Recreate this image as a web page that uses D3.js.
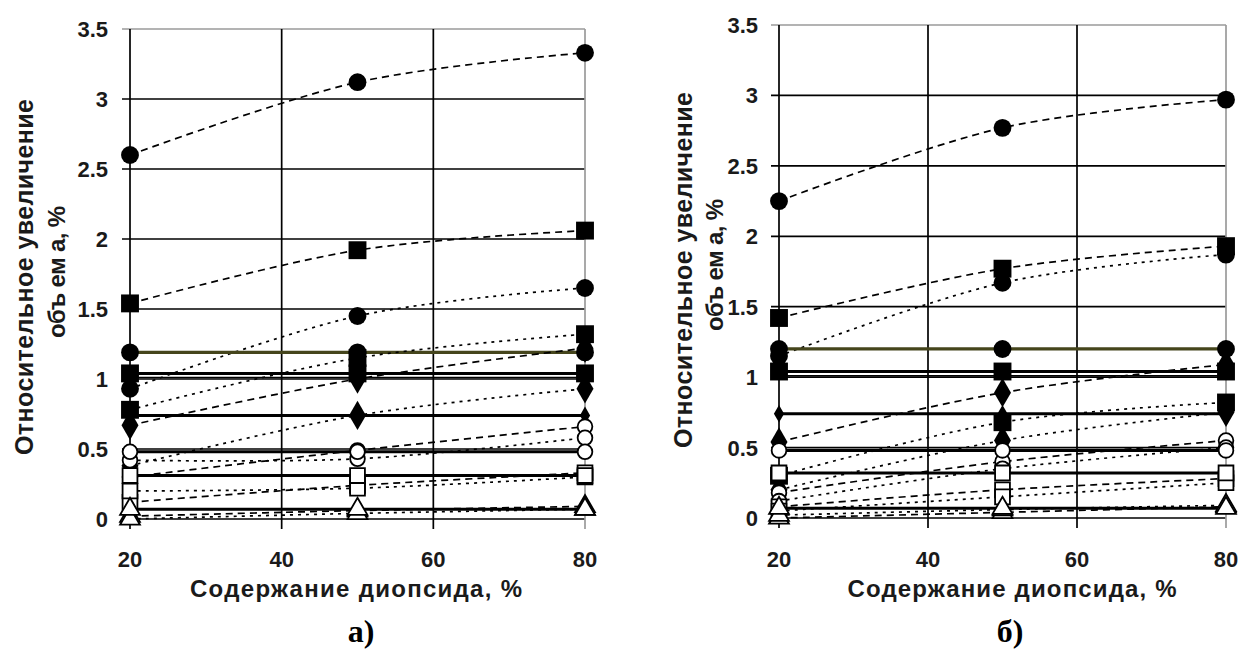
<!DOCTYPE html>
<html><head><meta charset="utf-8">
<script src="https://cdn.jsdelivr.net/npm/d3@7"></script>
<style>body{margin:0;background:#fff}svg{display:block}</style>
</head><body>
<svg id="c" width="1240" height="650"></svg>
<script>
// ---------- data ----------
const xValues = [20, 50, 80];
const xTicks = [20, 40, 60, 80];
const xTickLabels = ["20", "40", "60", "80"];
const yTicks = [0, 0.5, 1, 1.5, 2, 2.5, 3, 3.5];
const yTickLabels = ["0", "0.5", "1", "1.5", "2", "2.5", "3", "3.5"];
const xTitle = "Содержание диопсида, %";
const yTitle1 = "Относительное увеличение";
const yTitle2 = "объ ем а, %";
const panelLabels = ["а)", "б)"];

// series definitions: marker type and line style
const seriesMarkers = ["circle","circle","circle","square","square","square","squareSmall",
  "diamond","diamond","diamondSmall","ocircle","ocircle","ocircle",
  "osquare","osquare","osquare","triangle","triangle","triangle"];
const seriesStyles = ["dash","dot","olive","dash","dot","solid","thin",
  "dash","dot","solid","dash","dot","solid",
  "dash","dot","solid","dash","dot","solid"];

// panel а)
const aCircleDash   = [2.60, 3.12, 3.33];
const aCircleDot    = [0.93, 1.45, 1.65];
const aCircleSolid  = [1.19, 1.19, 1.19];
const aSquareDash   = [1.54, 1.92, 2.06];
const aSquareDot    = [0.78, 1.15, 1.32];
const aSquareSolid  = [1.04, 1.04, 1.04];
const aSquareThin   = [1.01, 1.01, 1.01];
const aDiamondDash  = [0.67, 1.00, 1.22];
const aDiamondDot   = [0.38, 0.74, 0.93];
const aDiamondSolid = [0.74, 0.74, 0.74];
const aOCircleDash  = [0.30, 0.49, 0.66];
const aOCircleDot   = [0.42, 0.43, 0.58];
const aOCircleSolid = [0.48, 0.48, 0.48];
const aOSquareDash  = [0.12, 0.24, 0.33];
const aOSquareDot   = [0.20, 0.22, 0.30];
const aOSquareSolid = [0.31, 0.31, 0.31];
const aTriDash      = [0.02, 0.06, 0.09];
const aTriDot       = [0.00, 0.04, 0.07];
const aTriSolid     = [0.07, 0.07, 0.07];

// panel б)
const bCircleDash   = [2.25, 2.77, 2.97];
const bCircleDot    = [1.15, 1.67, 1.87];
const bCircleSolid  = [1.20, 1.20, 1.20];
const bSquareDash   = [1.42, 1.77, 1.93];
const bSquareDot    = [0.30, 0.68, 0.82];
const bSquareSolid  = [1.04, 1.04, 1.04];
const bSquareThin   = [1.01, 1.01, 1.01];
const bDiamondDash  = [0.54, 0.89, 1.09];
const bDiamondDot   = [0.20, 0.55, 0.75];
const bDiamondSolid = [0.74, 0.74, 0.74];
const bOCircleDash  = [0.18, 0.40, 0.55];
const bOCircleDot   = [0.12, 0.35, 0.50];
const bOCircleSolid = [0.48, 0.48, 0.48];
const bOSquareDash  = [0.08, 0.20, 0.28];
const bOSquareDot   = [0.05, 0.15, 0.25];
const bOSquareSolid = [0.32, 0.32, 0.32];
const bTriDash      = [0.00, 0.04, 0.08];
const bTriDot       = [0.02, 0.06, 0.09];
const bTriSolid     = [0.07, 0.07, 0.07];

const valuesA = [aCircleDash,aCircleDot,aCircleSolid,aSquareDash,aSquareDot,aSquareSolid,aSquareThin,
  aDiamondDash,aDiamondDot,aDiamondSolid,aOCircleDash,aOCircleDot,aOCircleSolid,
  aOSquareDash,aOSquareDot,aOSquareSolid,aTriDash,aTriDot,aTriSolid];
const valuesB = [bCircleDash,bCircleDot,bCircleSolid,bSquareDash,bSquareDot,bSquareSolid,bSquareThin,
  bDiamondDash,bDiamondDot,bDiamondSolid,bOCircleDash,bOCircleDot,bOCircleSolid,
  bOSquareDash,bOSquareDot,bOSquareSolid,bTriDash,bTriDot,bTriSolid];

// ---------- drawing ----------
const svg = d3.select("#c");
const FONT = "'Liberation Sans', Arial, sans-serif";

const panels = [
  {vals: valuesA, x0: 130, x1: 585, yb: 519, yt: 29, ylabR: 108, t1x: 33, t2x: 65, tcy: 277, t2cy: 272, xtc: 356, xtw: 332, lab: panelLabels[0], labx: 361},
  {vals: valuesB, x0: 779, x1: 1226, yb: 518, yt: 25, ylabR: 758, t1x: 692, t2x: 723, tcy: 270, t2cy: 265, xtc: 1012, xtw: 329, lab: panelLabels[1], labx: 1010}
];

const styleMap = {
  dash:  {stroke:"#000", w:1.7, dash:"7,5"},
  dot:   {stroke:"#000", w:1.7, dash:"3,5"},
  solid: {stroke:"#000", w:3, dash:null},
  thin:  {stroke:"#000", w:1.5, dash:null},
  olive: {stroke:"#45451c", w:3.2, dash:null}
};

panels.forEach(p => {
  const x = d3.scaleLinear().domain([20, 80]).range([p.x0, p.x1]);
  const y = d3.scaleLinear().domain([0, 3.5]).range([p.yb, p.yt]);
  const g = svg.append("g");

  // horizontal grid
  g.selectAll("line.hg").data(yTicks).enter().append("line")
    .attr("x1", x(20) - 8).attr("x2", x(80))
    .attr("y1", d => y(d)).attr("y2", d => y(d))
    .attr("stroke", d => d === 3.5 ? "#9a9a9a" : "#000")
    .attr("stroke-width", 1.7);
  // vertical grid + ticks below axis
  g.selectAll("line.vg").data(xTicks).enter().append("line")
    .attr("x1", d => x(d)).attr("x2", d => x(d))
    .attr("y1", y(3.5)).attr("y2", y(0) + 10)
    .attr("stroke", d => d === 80 ? "#9a9a9a" : "#000")
    .attr("stroke-width", 1.7);

  // tick labels
  g.selectAll("text.yl").data(yTicks).enter().append("text")
    .attr("x", p.ylabR).attr("y", d => y(d) + 8)
    .attr("text-anchor", "end")
    .attr("font-family", FONT).attr("font-weight", "bold").attr("font-size", 22)
    .attr("fill", "#1a1a1a")
    .text((d, i) => yTickLabels[i]);
  g.selectAll("text.xl").data(xTicks).enter().append("text")
    .attr("x", d => x(d)).attr("y", 567)
    .attr("text-anchor", "middle")
    .attr("font-family", FONT).attr("font-weight", "bold").attr("font-size", 22)
    .attr("fill", "#1a1a1a")
    .text((d, i) => xTickLabels[i]);

  // axis titles
  g.append("text").attr("x", p.xtc).attr("y", 597).attr("text-anchor", "middle")
    .attr("font-family", FONT).attr("font-weight", "bold").attr("font-size", 24)
    .attr("textLength", p.xtw).attr("lengthAdjust", "spacing")
    .attr("fill", "#1a1a1a").text(xTitle);
  g.append("text").attr("transform", `translate(${p.t1x},${p.tcy}) rotate(-90)`)
    .attr("text-anchor", "middle")
    .attr("font-family", FONT).attr("font-weight", "bold").attr("font-size", 25)
    .attr("textLength", 356).attr("lengthAdjust", "spacing")
    .attr("fill", "#1a1a1a").text(yTitle1);
  g.append("text").attr("transform", `translate(${p.t2x},${p.t2cy}) rotate(-90)`)
    .attr("text-anchor", "middle")
    .attr("font-family", FONT).attr("font-weight", "bold").attr("font-size", 24)
    .attr("textLength", 132).attr("lengthAdjust", "spacing")
    .attr("fill", "#1a1a1a").text(yTitle2);

  // panel label
  g.append("text").attr("x", p.labx).attr("y", 642).attr("text-anchor", "middle")
    .attr("font-family", "'Liberation Serif', 'Times New Roman', serif")
    .attr("font-weight", "bold").attr("font-size", 32).attr("fill", "#000")
    .text(p.lab);

  // lines
  const line = d3.line().x((d, i) => x(xValues[i])).y(d => y(d)).curve(d3.curveCardinal.tension(0));
  p.vals.forEach((vals, si) => {
    const st = styleMap[seriesStyles[si]];
    g.append("path").attr("d", line(vals)).attr("fill", "none")
      .attr("stroke", st.stroke).attr("stroke-width", st.w)
      .attr("stroke-dasharray", st.dash);
  });

  // markers
  const sym = {
    circle: [d3.symbolCircle, 250, "#000", "none"],
    square: [d3.symbolSquare, 320, "#000", "none"],
    squareSmall: [d3.symbolSquare, 150, "#000", "none"],
    diamond: [d3.symbolDiamond, 250, "#000", "none"],
    diamondSmall: [d3.symbolDiamond, 90, "#000", "none"],
    ocircle: [d3.symbolCircle, 170, "#fff", "#000"],
    osquare: [d3.symbolSquare, 220, "#fff", "#000"],
    triangle: [d3.symbolTriangle, 170, "#fff", "#000"]
  };
  p.vals.forEach((vals, si) => {
    const m = sym[seriesMarkers[si]];
    if (seriesStyles[si] === "thin") return;
    g.selectAll(null).data(vals).enter().append("path")
      .attr("transform", (d, i) => `translate(${x(xValues[i])},${y(d)})`)
      .attr("d", d3.symbol().type(m[0]).size(m[1]))
      .attr("fill", m[2]).attr("stroke", m[3]).attr("stroke-width", 1.8);
  });
});
</script>
</body></html>
